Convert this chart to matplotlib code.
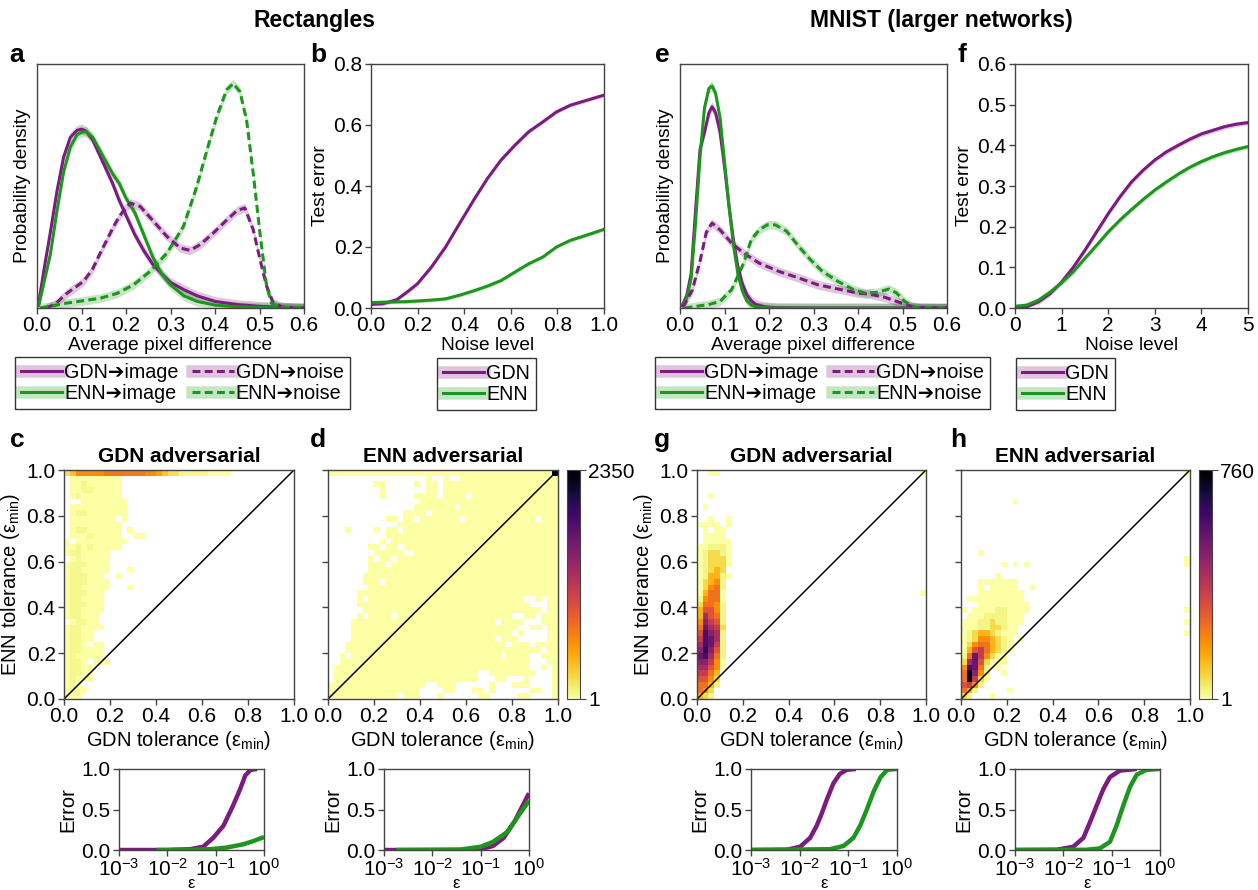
import numpy as np
import matplotlib
matplotlib.use('Agg')
import matplotlib.pyplot as plt
from matplotlib.colors import Normalize
from matplotlib.lines import Line2D
from matplotlib.ticker import FormatStrFormatter, NullLocator

plt.rcParams['font.family'] = ['Liberation Sans', 'DejaVu Sans']
plt.rcParams['mathtext.fontset'] = 'custom'
plt.rcParams['mathtext.rm'] = 'Liberation Sans'
plt.rcParams['mathtext.it'] = 'Liberation Sans:italic'
plt.rcParams['mathtext.bf'] = 'Liberation Sans:bold'

PURPLE = '#7b1c7e'
GREEN = '#1e961e'
SPINE = '#444444'

# ---------------- Panel a (Rectangles: pixel difference densities) ----------------
a_x_img = [0.004, 0.015, 0.03, 0.045, 0.06, 0.075, 0.09, 0.1, 0.11, 0.125, 0.14, 0.155, 0.17,
           0.185, 0.2, 0.22, 0.24, 0.26, 0.28, 0.3, 0.33, 0.36, 0.4, 0.45, 0.5, 0.55, 0.6]
a_gdn_img = [0.02, 0.15, 0.31, 0.48, 0.62, 0.70, 0.728, 0.733, 0.725, 0.69, 0.63, 0.57, 0.51,
             0.44, 0.38, 0.30, 0.235, 0.18, 0.14, 0.105, 0.075, 0.05, 0.027, 0.014, 0.007, 0.003, 0.001]
a_enn_img = [0.01, 0.10, 0.22, 0.40, 0.56, 0.66, 0.71, 0.72, 0.723, 0.70, 0.65, 0.60, 0.55,
             0.51, 0.45, 0.39, 0.30, 0.21, 0.14, 0.095, 0.05, 0.027, 0.012, 0.005, 0.002, 0.001, 0.0]
a_x_gdn_noise = [0.02, 0.04, 0.067, 0.09, 0.105, 0.125, 0.142, 0.16, 0.172, 0.185, 0.195, 0.21,
                 0.232, 0.262, 0.292, 0.322, 0.344, 0.367, 0.396, 0.426, 0.45, 0.467, 0.486,
                 0.501, 0.516, 0.531, 0.554, 0.6]
a_gdn_noise = [0.0, 0.015, 0.06, 0.09, 0.11, 0.16, 0.225, 0.29, 0.334, 0.375, 0.40, 0.43,
               0.416, 0.355, 0.293, 0.246, 0.236, 0.26, 0.307, 0.36, 0.40, 0.41, 0.32,
               0.20, 0.089, 0.02, 0.003, 0.0]
a_x_enn_noise = [0.007, 0.067, 0.142, 0.18, 0.217, 0.254, 0.292, 0.329, 0.359, 0.382, 0.404,
                 0.426, 0.441, 0.456, 0.471, 0.486, 0.501, 0.516, 0.527, 0.546, 0.6]
a_enn_noise = [0.0, 0.02, 0.04, 0.06, 0.095, 0.15, 0.225, 0.334, 0.498, 0.648, 0.784,
               0.894, 0.92, 0.887, 0.77, 0.55, 0.307, 0.089, 0.02, 0.003, 0.0]

# ---------------- Panel b (Rectangles: test error vs noise) ----------------
b_noise = [0.0, 0.05, 0.11, 0.156, 0.2, 0.26, 0.32, 0.38, 0.44, 0.5, 0.558, 0.618, 0.677,
           0.737, 0.796, 0.856, 0.93, 1.0]
b_gdn = [0.012, 0.014, 0.027, 0.053, 0.08, 0.135, 0.2, 0.277, 0.353, 0.425, 0.485, 0.534,
         0.578, 0.61, 0.643, 0.665, 0.682, 0.698]
b_enn = [0.0175, 0.019, 0.02, 0.021, 0.023, 0.026, 0.03, 0.042, 0.056, 0.072, 0.09, 0.118,
         0.145, 0.167, 0.2, 0.222, 0.24, 0.258]

# ---------------- Panel e (MNIST: pixel difference densities) ----------------
e_x_img = [0.005, 0.015, 0.025, 0.035, 0.045, 0.055, 0.065, 0.072, 0.08, 0.09, 0.1, 0.11,
           0.12, 0.13, 0.14, 0.15, 0.16, 0.17, 0.19, 0.22, 0.3, 0.6]
e_gdn_img = [0.01, 0.05, 0.14, 0.40, 0.65, 0.72, 0.80, 0.825, 0.80, 0.72, 0.58, 0.42,
             0.28, 0.17, 0.10, 0.055, 0.03, 0.015, 0.005, 0.001, 0.0, 0.0]
e_enn_img = [0.01, 0.04, 0.12, 0.35, 0.62, 0.82, 0.90, 0.91, 0.88, 0.78, 0.60, 0.42,
             0.26, 0.14, 0.07, 0.03, 0.012, 0.005, 0.001, 0.0, 0.0, 0.0]
e_x_gdn_noise = [0.005, 0.01, 0.028, 0.046, 0.059, 0.072, 0.09, 0.116, 0.143, 0.178, 0.222,
                 0.267, 0.31, 0.355, 0.4, 0.425, 0.46, 0.487, 0.514, 0.53, 0.6]
e_gdn_noise = [0.005, 0.014, 0.075, 0.2, 0.31, 0.348, 0.32, 0.266, 0.225, 0.184, 0.15,
               0.123, 0.095, 0.078, 0.061, 0.057, 0.044, 0.027, 0.01, 0.003, 0.0]
e_x_enn_noise = [0.01, 0.064, 0.09, 0.116, 0.143, 0.16, 0.178, 0.196, 0.214, 0.24, 0.267,
                 0.293, 0.32, 0.355, 0.39, 0.417, 0.443, 0.47, 0.487, 0.505, 0.522, 0.54, 0.6]
e_enn_noise = [0.0, 0.014, 0.027, 0.075, 0.184, 0.28, 0.32, 0.341, 0.341, 0.314, 0.252,
               0.198, 0.15, 0.109, 0.075, 0.061, 0.064, 0.078, 0.061, 0.027, 0.007, 0.0, 0.0]

# ---------------- Panel f (MNIST: test error vs noise) ----------------
f_noise = [0.0, 0.25, 0.5, 0.75, 1.0, 1.25, 1.5, 1.75, 2.0, 2.25, 2.5, 2.75, 3.0, 3.25, 3.5,
           3.75, 4.0, 4.25, 4.5, 4.75, 5.0]
f_gdn = [0.0, 0.003, 0.015, 0.035, 0.064, 0.1, 0.142, 0.187, 0.232, 0.273, 0.31, 0.339,
         0.364, 0.384, 0.4, 0.415, 0.428, 0.437, 0.446, 0.452, 0.456]
f_enn = [0.004, 0.007, 0.019, 0.039, 0.062, 0.089, 0.122, 0.154, 0.187, 0.216, 0.242, 0.267,
         0.29, 0.31, 0.329, 0.346, 0.36, 0.372, 0.382, 0.39, 0.397]

# ---------------- Error vs epsilon (bottom small panels) ----------------
c_eps_gdn = [0.001, 0.01, 0.03, 0.055, 0.089, 0.145, 0.23, 0.32, 0.41, 0.53, 0.72]
c_err_gdn = [0.0, 0.0, 0.01, 0.04, 0.15, 0.3, 0.55, 0.75, 0.92, 0.99, 1.0]
c_eps_enn = [0.006, 0.03, 0.076, 0.17, 0.37, 0.6, 1.0]
c_err_enn = [0.0, 0.003, 0.01, 0.03, 0.07, 0.11, 0.16]
d_eps_gdn = [0.001, 0.01, 0.05, 0.1, 0.18, 0.3, 0.5, 0.7, 1.0]
d_err_gdn = [0.0, 0.0, 0.0, 0.01, 0.05, 0.15, 0.35, 0.52, 0.7]
d_eps_enn = [0.0018, 0.037, 0.1, 0.18, 0.35, 0.54, 1.0]
d_err_enn = [0.0, 0.005, 0.04, 0.1, 0.22, 0.38, 0.61]
g_eps_gdn = [0.001, 0.0054, 0.0102, 0.0164, 0.0224, 0.0284, 0.036, 0.049, 0.067, 0.093, 0.142]
g_err_gdn = [0.0, 0.003, 0.04, 0.15, 0.3, 0.45, 0.62, 0.82, 0.94, 0.99, 1.0]
g_eps_enn = [0.001, 0.042, 0.08, 0.127, 0.175, 0.24, 0.33, 0.46, 0.63, 1.0]
g_err_enn = [0.0, 0.01, 0.05, 0.15, 0.3, 0.5, 0.72, 0.9, 0.99, 1.0]
h_eps_gdn = [0.001, 0.0073, 0.016, 0.026, 0.036, 0.049, 0.067, 0.092, 0.148, 0.33]
h_err_gdn = [0.0, 0.003, 0.04, 0.15, 0.35, 0.55, 0.75, 0.9, 0.98, 1.0]
h_eps_enn = [0.001, 0.03, 0.057, 0.092, 0.126, 0.174, 0.24, 0.33, 0.53, 1.0]
h_err_enn = [0.0, 0.003, 0.02, 0.1, 0.3, 0.55, 0.78, 0.93, 0.99, 1.0]

# ---------------- 2D histograms (40x40 bins, row 0 = top: ENN tol 0.975-1.0) ----------------
def r(prefix, last='.'):
    return prefix.ljust(39, '.')[:39] + last

RECT_LEVELS = {'.': 0, '1': 8, '2': 60, '3': 190, '4': 330, '5': 470, '6': 590, '7': 700, 'E': 2350}
MNIST_LEVELS = {'.': 0, '1': 3, '2': 25, '3': 70, '4': 130, '5': 190, '6': 240, '7': 300,
                '8': 360, '9': 420, 'A': 480, 'B': 540, 'C': 590, 'D': 640, 'E': 760}

C_ROWS = [r("34666667777777665433222221111"), r(".111111111"), r(".112111111"), r(".112211111"),
          r(".121111111"), r("...11111111"), r(".1111111111"), r(".1221111111"), r(".11111111.1"),
          r(".111111111"), r(".122111111.1"), r(".111211111..11"), r("1.111111111"), r("1121211111"),
          r("12211111"), r(".1211111"), r("12221111"), r("12211111...1"), r("1222111..1"),
          r("12221111"), r("12211111...1"), r("1222111"), r("1221111"), r("1222111"), r("1221111"),
          r("122111"), r(".12211"), r("1221111"), r("12211"), r("12211"), r("1221.11"), r("1221111"),
          r("1211111"), r("1221.111"), r("12211"), r("12211"), r("12111"), r("121"), r("1211"), r("111")]

D_ROWS = [
    "111111111111111111111111111111111111111E",
    ".................1..1..11111111111111111",
    "........11.....1.11.11111111111111111111",
    ".........1.......11.11111111111111111111",
    ".........1.....1111.1111.111111111111111",
    "................111111111111111111111111",
    "...............1111111.11111111111111111",
    ".............1111.1111111111111111111111",
    "..........11.11.1111111.111111111111.111",
    "............1111111111111111111111111111",
    "...1....1.11.111111111111111111111111111",
    "..........111111111111111111111111111111",
    ".........1.11111111111111111111111111111",
    ".......11.11.111111111111111111111111111",
    "........11111..1111111111111111111111111",
    ".......1.11.1111111111111111111111111111",
    ".......111.11111111111111111111111111111",
    ".......111111111111111111111111111111111",
    "......1111111111111111111111111111111111",
    "......111.111111111111111111111111111111",
    ".......111111111111111111111111111111111",
    ".....11111111111111111111111111111111111",
    ".....1.111111111111111111111111111..1.11",
    ".....111111111111111111111111111111...11",
    "......1111111111111111111111111111111.11",
    ".....1.1111.11111111111111111111..11.111",
    "....1111111111111111111111111.1111...111",
    "....11111111111111111111111111111..11.11",
    "....1111111111111111111111111111.1....11",
    "....1111111111111111111111111.111.....11",
    "...1111111111111111111111111111.111.1111",
    "...1111111111111111111111111111111111.11",
    "..1.11111111111111111111111111.1111..111",
    "..111111111111111111111111111111111...11",
    ".1111111111111111111111111111111111..1.1",
    ".1111111111111111111111111..11111111...1",
    ".1111111111111111111111111...11...1....1",
    "11111111111111111..111......1...111....1",
    "1111111111111111....11...11.1......11..1",
    "111111111111.111...1......11.....11....1",
]

G_ROWS = [r("..11", "1"), r(""), r(""), r(""), r("..1"), r(""), r(".1"), r(""), r("..1..1"),
          r("1111.1"), r(".1.11"), r(".1111"), r(".11111"), r("112221"), r("123321"), r("123331"),
          r("123331"), r("12343"), r("124421"), r("13452"), r("13562"), r("14661", "1"), r("25661"),
          r("36652"), r("47752"), r("49762"), r("5A872"), r("6B983"), r("7CA92"), r("8CB92"),
          r("9CB82"), r("ADA72"), r("BC962"), r("AA851"), r("99751"), r("8864"), r("7753"),
          r("6642"), r("653"), r("432")]

H_ROWS = [r("", "1"), r(""), r(""), r(""), r(""), r(".........1"), r(""), r(""), r(""), r(""),
          r(""), r(""), r(""), r(""), r("...1"), r("", "1"), r(".......1.1.1", "1"), r(""),
          r("......1"), r("...1111111"), r("...1.11111..1"), r("...11111111"), r(".1111111111"),
          r("...111111111"), r("1.1111221111", "1"), r(".1112222111"), r("11122322111", "1"),
          r("1112233211"), r("1234432111", "1"), r("123554321.1"), r("1356643211"),
          r("147864321"), r("26B85311"), r("39B73111"), r("5CB6211"), r("6EA52..1"), r("6E831"),
          r("7852"), r("642.....1"), r("32...1")]

tol_edges = np.linspace(0, 1, 41)

# ---------------- Figure ----------------
W, H = 1258, 890
fig = plt.figure(figsize=(W / 100, H / 100), dpi=100)

FS_TICK = 15
FS_LAB = 13.8
FS_LEG = 14.2
ARROW = '\u2794'


def add_ax(x0, y0, x1, y1):
    return fig.add_axes([x0 / W, 1 - y1 / H, (x1 - x0) / W, (y1 - y0) / H])


def style(ax):
    for s in ax.spines.values():
        s.set_color(SPINE)
        s.set_linewidth(1.0)
    ax.tick_params(labelsize=FS_TICK, color=SPINE, length=4, width=1, pad=2)


def band_line(ax, x, y, color, ls, hw):
    x = np.asarray(x)
    y = np.asarray(y)
    ax.fill_between(x, np.clip(y - hw, 0, None), y + hw, color=color, alpha=0.25, lw=0)
    ax.plot(x, y, color=color, ls=ls, lw=2.2)


def legend_handles(color, ls='-'):
    return (Line2D([], [], color=color, lw=9, alpha=0.25),
            Line2D([], [], color=color, lw=2.2, ls=ls))


DASH = (0, (2.6, 1.4))


def density_panel(ax, data, leg_xy):
    (xi, gi, ei, xgn, gn, xen, en) = data
    band_line(ax, xi, gi, PURPLE, '-', 0.02)
    band_line(ax, xi, ei, GREEN, '-', 0.02)
    band_line(ax, xgn, gn, PURPLE, DASH, 0.018)
    band_line(ax, xen, en, GREEN, DASH, 0.018)
    ax.set_xlim(0, 0.6)
    ax.set_ylim(0, 1.0)
    ax.set_yticks([])
    ax.set_xticks(np.arange(0, 0.61, 0.1))
    ax.xaxis.set_major_formatter(FormatStrFormatter('%.1f'))
    ax.set_xlabel('Average pixel difference', fontsize=FS_LAB, labelpad=1)
    ax.set_ylabel('Probability density', fontsize=FS_LAB, labelpad=4)
    style(ax)
    handles = [legend_handles(PURPLE), legend_handles(GREEN),
               legend_handles(PURPLE, DASH), legend_handles(GREEN, DASH)]
    labels = ['GDN' + ARROW + 'image', 'ENN' + ARROW + 'image',
              'GDN' + ARROW + 'noise', 'ENN' + ARROW + 'noise']
    leg = ax.legend(handles, labels, loc='upper left', bbox_to_anchor=(leg_xy[0] / W, 1 - leg_xy[1] / H),
                    bbox_transform=fig.transFigure, ncol=2, fontsize=FS_LEG, handlelength=2.1,
                    handletextpad=0.1, columnspacing=0.7, labelspacing=0.12, borderpad=0.3,
                    fancybox=False, edgecolor='#333333', framealpha=1, borderaxespad=0)
    leg.get_frame().set_linewidth(1.0)


def error_panel(ax, x, g, e, xlim, xticks, ylim, yticks, yfmt, leg_xy):
    band_line(ax, x, g, PURPLE, '-', 0.006)
    band_line(ax, x, e, GREEN, '-', 0.006)
    ax.set_xlim(*xlim)
    ax.set_ylim(*ylim)
    ax.set_xticks(xticks)
    ax.set_yticks(yticks)
    ax.yaxis.set_major_formatter(FormatStrFormatter(yfmt))
    ax.set_xlabel('Noise level', fontsize=FS_LAB, labelpad=1)
    ax.set_ylabel('Test error', fontsize=FS_LAB, labelpad=3)
    style(ax)
    handles = [legend_handles(PURPLE), legend_handles(GREEN)]
    leg = ax.legend(handles, ['GDN', 'ENN'], loc='upper left', bbox_to_anchor=(leg_xy[0] / W, 1 - leg_xy[1] / H),
                    bbox_transform=fig.transFigure, ncol=1, fontsize=FS_LEG, handlelength=2.1,
                    handletextpad=0.1, labelspacing=0.12, borderpad=0.3,
                    fancybox=False, edgecolor='#333333', framealpha=1, borderaxespad=0)
    leg.get_frame().set_linewidth(1.0)


def decode(rows, levels):
    grid = np.zeros((40, 40))
    for i, row in enumerate(rows):
        row = row.ljust(40, '.')[:40]
        for j, ch in enumerate(row):
            grid[39 - i, j] = levels[ch]
    return np.ma.masked_equal(grid, 0)


def heat_panel(ax, rows, levels, vmax, title, ylab):
    counts = decode(rows, levels)
    m = ax.pcolormesh(tol_edges, tol_edges, counts, cmap='inferno_r',
                      norm=Normalize(vmin=1, vmax=vmax), linewidth=0)
    ax.plot([0, 1], [0, 1], color='black', lw=1.1)
    ax.set_xlim(0, 1)
    ax.set_ylim(0, 1)
    ticks = np.arange(0, 1.01, 0.2)
    ax.set_xticks(ticks)
    ax.set_yticks(ticks)
    ax.xaxis.set_major_formatter(FormatStrFormatter('%.1f'))
    if ylab:
        ax.yaxis.set_major_formatter(FormatStrFormatter('%.1f'))
        ax.set_ylabel('ENN tolerance (ε$_{\\mathrm{min}}$)', fontsize=14.5, labelpad=3)
    else:
        ax.set_yticklabels([])
    ax.set_xlabel('GDN tolerance (ε$_{\\mathrm{min}}$)', fontsize=14.5, labelpad=2)
    ax.set_title(title, fontsize=15, fontweight='bold', pad=6)
    style(ax)
    return m


def eps_panel(ax, xg, yg, xe, ye):
    ax.plot(xg, yg, color=PURPLE, lw=3.2, solid_capstyle='butt')
    ax.plot(xe, ye, color=GREEN, lw=3.2, solid_capstyle='butt')
    ax.set_xscale('log')
    ax.set_xlim(1e-3, 1)
    ax.set_ylim(0, 1)
    ax.set_xticks([1e-3, 1e-2, 1e-1, 1e0])
    ax.xaxis.set_minor_locator(NullLocator())
    ax.set_yticks([0, 0.5, 1.0])
    ax.yaxis.set_major_formatter(FormatStrFormatter('%.1f'))
    ax.set_ylabel('Error', fontsize=14.5, labelpad=3)
    ax.set_xlabel('ε', fontsize=12, labelpad=-3)
    style(ax)


def cbar(mappable, box, vmax):
    cax = add_ax(*box)
    cb = fig.colorbar(mappable, cax=cax, ticks=[1, vmax])
    cb.ax.set_yticklabels(['1', str(vmax)])
    cb.outline.set_edgecolor(SPINE)
    cb.ax.tick_params(labelsize=FS_TICK, length=4, color=SPINE, pad=2)


# Top row
ax_a = add_ax(37, 64, 304, 308)
density_panel(ax_a, (a_x_img, a_gdn_img, a_enn_img, a_x_gdn_noise, a_gdn_noise, a_x_enn_noise, a_enn_noise), (15, 357))

ax_b = add_ax(371, 64, 604, 308)
error_panel(ax_b, b_noise, b_gdn, b_enn, (0, 1), np.arange(0, 1.01, 0.2), (0, 0.8), np.arange(0, 0.81, 0.2), '%.1f', (437, 358))
ax_b.xaxis.set_major_formatter(FormatStrFormatter('%.1f'))

ax_e = add_ax(680, 64, 947, 308)
density_panel(ax_e, (e_x_img, e_gdn_img, e_enn_img, e_x_gdn_noise, e_gdn_noise, e_x_enn_noise, e_enn_noise), (655, 357))

ax_f = add_ax(1015, 64, 1248, 308)
error_panel(ax_f, f_noise, f_gdn, f_enn, (0, 5), np.arange(0, 6, 1), (0, 0.6), np.arange(0, 0.61, 0.1), '%.1f', (1016, 358))

# Heatmaps
ax_c = add_ax(64, 470, 294, 699)
heat_panel(ax_c, C_ROWS, RECT_LEVELS, 2350, 'GDN adversarial', True)
ax_d = add_ax(328, 470, 558, 699)
m_d = heat_panel(ax_d, D_ROWS, RECT_LEVELS, 2350, 'ENN adversarial', False)
cbar(m_d, (567, 470, 580, 699), 2350)

ax_g = add_ax(697, 470, 926, 699)
heat_panel(ax_g, G_ROWS, MNIST_LEVELS, 760, 'GDN adversarial', True)
ax_h = add_ax(961, 470, 1190, 699)
m_h = heat_panel(ax_h, H_ROWS, MNIST_LEVELS, 760, 'ENN adversarial', False)
cbar(m_h, (1199, 470, 1212, 699), 760)

# Bottom small panels
eps_panel(add_ax(119, 769, 264, 850), c_eps_gdn, c_err_gdn, c_eps_enn, c_err_enn)
eps_panel(add_ax(384, 769, 529, 850), d_eps_gdn, d_err_gdn, d_eps_enn, d_err_enn)
eps_panel(add_ax(751, 769, 897, 850), g_eps_gdn, g_err_gdn, g_eps_enn, g_err_enn)
eps_panel(add_ax(1015, 769, 1160, 850), h_eps_gdn, h_err_gdn, h_eps_enn, h_err_enn)

# Section titles and panel letters
fig.text(315 / W, 1 - 20 / H, 'Rectangles', ha='center', va='center', fontsize=16.5, fontweight='bold')
fig.text(941 / W, 1 - 20 / H, 'MNIST (larger networks)', ha='center', va='center', fontsize=16.5, fontweight='bold')
for letter, x, y in [('a', 17, 55), ('b', 318, 55), ('e', 662, 55), ('f', 962, 55),
                     ('c', 17, 440), ('d', 318, 440), ('g', 662, 440), ('h', 958, 440)]:
    fig.text(x / W, 1 - y / H, letter, ha='center', va='center', fontsize=19, fontweight='bold')

fig.savefig('out.png', dpi=100)
